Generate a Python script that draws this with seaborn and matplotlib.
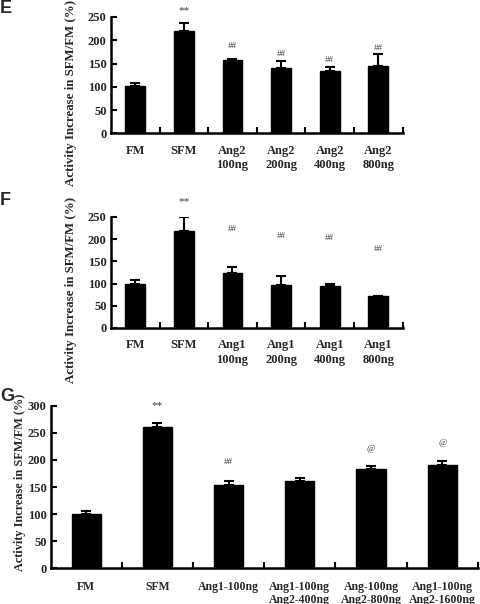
import numpy as np
import pandas as pd
import seaborn as sns
import matplotlib.pyplot as plt
from matplotlib.ticker import FixedLocator

# Panel E: Ang2 doses
labels_e = ["FM", "SFM", "Ang2\n100ng", "Ang2\n200ng", "Ang2\n400ng", "Ang2\n800ng"]
mean_e = [101, 220, 158, 140, 133, 144]
err_e = [7, 17, 1, 15, 10, 26]
marks_e = ["", "**", "##", "##", "##", "##"]
mark_y_e = [0, 264, 187, 171, 158, 183]

# Panel F: Ang1 doses
labels_f = ["FM", "SFM", "Ang1\n100ng", "Ang1\n200ng", "Ang1\n400ng", "Ang1\n800ng"]
mean_f = [100, 219, 123, 97, 94, 71]
err_f = [7, 30, 15, 20, 5, 2]
marks_f = ["", "**", "##", "##", "##", "##"]
mark_y_f = [0, 285, 222, 207, 203, 178]

# Panel G: combinations
labels_g = ["FM", "SFM", "Ang1-100ng", "Ang1-100ng\nAng2-400ng",
            "Ang-100ng\nAng2-800ng", "Ang1-100ng\nAng2-1600ng"]
mean_g = [101, 260, 154, 162, 183, 190]
err_g = [5, 8, 8, 5, 5, 9]
marks_g = ["", "**", "##", "", "@", "@"]
mark_y_g = [0, 300, 197, 0, 220, 232]

sns.set_theme(style="ticks")
plt.rcParams["font.family"] = ["Liberation Serif", "DejaVu Serif"]
plt.rcParams["font.weight"] = "bold"

fig = plt.figure(figsize=(4.8, 6.04), dpi=100)


def panel(rect, labels, mean, err, marks, mark_y, ymax, letter, letter_xy,
          xsize=9, xpad=8, spacing=1.3, ysize=9.3):
    ax = fig.add_axes(rect)
    df = pd.DataFrame({"group": labels, "value": mean})
    sns.barplot(data=df, x="group", y="value", color="black", width=0.41,
                edgecolor="black", saturation=1, errorbar=None, ax=ax)
    x = np.arange(len(labels))
    ax.errorbar(x, mean, yerr=[np.zeros(len(err)), err], fmt="none",
                ecolor="black", elinewidth=1.5, capsize=3.5, capthick=1.5)
    for xi, m, my in zip(x, marks, mark_y):
        if m:
            size = 8 if m == "**" else 6.5
            ax.text(xi, my, m, ha="center", va="center", fontsize=size,
                    fontweight="normal", color="#3a3a3a", clip_on=False)
    ax.set_xlim(-0.5, len(labels) - 0.5)
    ax.set_ylim(0, ymax)
    ax.set_yticks(np.arange(0, ymax + 1, 50))
    ax.set_xlabel("")
    ax.set_ylabel("Activity Increase in SFM/FM (%)", fontsize=ysize, fontweight="bold")
    ax.xaxis.set_minor_locator(FixedLocator(np.arange(0.5, len(labels), 1.0)))
    ax.tick_params(axis="x", which="major", length=0, pad=xpad, labelsize=xsize)
    ax.tick_params(axis="x", which="minor", direction="in", length=4, width=1.5, color="black")
    ax.tick_params(axis="y", direction="in", length=4, width=1.5, labelsize=9, pad=3, color="black")
    for lab in ax.get_xticklabels():
        lab.set_fontweight("bold")
        lab.set_linespacing(spacing)
    for lab in ax.get_yticklabels():
        lab.set_fontweight("bold")
    for s in ["top", "right"]:
        ax.spines[s].set_visible(False)
    for s in ["left", "bottom"]:
        ax.spines[s].set_linewidth(1.8)
        ax.spines[s].set_color("black")
    fig.text(letter_xy[0], letter_xy[1], letter, fontsize=13, fontweight="bold",
             family=["Liberation Sans", "DejaVu Sans"], va="top", ha="left")
    return ax


ax_e = panel([0.231, 0.779, 0.608, 0.193], labels_e, mean_e, err_e, marks_e,
             mark_y_e, 250, "E", (0.0, 1.0))
ax_f = panel([0.231, 0.457, 0.608, 0.184], labels_f, mean_f, err_f, marks_f,
             mark_y_f, 250, "F", (0.0, 0.682))
ax_g = panel([0.1056, 0.0591, 0.890, 0.269], labels_g, mean_g, err_g, marks_g,
             mark_y_g, 300, "G", (0.0, 0.358), xsize=8.5, xpad=9, spacing=1.08,
             ysize=8.8)
ax_e.yaxis.set_label_coords(-0.115, 0.35)
ax_f.yaxis.set_label_coords(-0.115, 0.34)
ax_g.yaxis.set_label_coords(-0.058, 0.53)

plt.savefig("out.png", dpi=100)
plt.close()
